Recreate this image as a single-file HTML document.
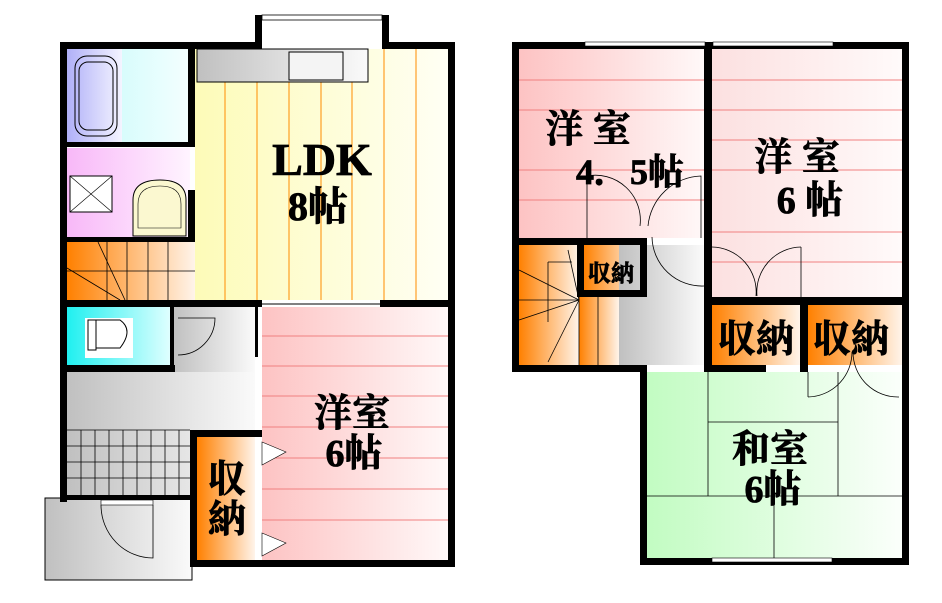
<!DOCTYPE html>
<html><head><meta charset="utf-8"><style>
html,body{margin:0;padding:0;background:#fff;}
svg{display:block;}
text{font-family:"Liberation Serif","Noto Serif CJK SC",serif;font-weight:bold;fill:#000;stroke:#000;stroke-width:0.8;}
</style></head><body>
<svg width="942" height="603" viewBox="0 0 942 603" xmlns="http://www.w3.org/2000/svg">
<defs>
<linearGradient id="pk" x1="0" x2="1"><stop offset="0" stop-color="#fdc3c3"/><stop offset="1" stop-color="#fff8f8"/></linearGradient>
<linearGradient id="pk2" x1="0" x2="1"><stop offset="0" stop-color="#fce0e0"/><stop offset="1" stop-color="#fffafa"/></linearGradient>
<linearGradient id="yl" x1="0" x2="1"><stop offset="0" stop-color="#fdfbb8"/><stop offset="1" stop-color="#fffff4"/></linearGradient>
<linearGradient id="or" x1="0" x2="1"><stop offset="0" stop-color="#ff8000"/><stop offset="1" stop-color="#fff4ea"/></linearGradient>
<linearGradient id="gy" x1="0" x2="1"><stop offset="0" stop-color="#c0c0c0"/><stop offset="1" stop-color="#fafafa"/></linearGradient>
<linearGradient id="gr" x1="0" x2="1"><stop offset="0" stop-color="#c2fcc2"/><stop offset="1" stop-color="#fbfffb"/></linearGradient>
<linearGradient id="cy" x1="0" x2="1"><stop offset="0" stop-color="#20f0f0"/><stop offset="1" stop-color="#e4ffff"/></linearGradient>
<linearGradient id="vi" x1="0" x2="1"><stop offset="0" stop-color="#f8b8f8"/><stop offset="1" stop-color="#fff4ff"/></linearGradient>
<linearGradient id="bl" x1="0" x2="1"><stop offset="0" stop-color="#b0b0f8"/><stop offset="1" stop-color="#f4f4ff"/></linearGradient>
<linearGradient id="lb" x1="0" x2="1"><stop offset="0" stop-color="#d8fcfc"/><stop offset="1" stop-color="#f4ffff"/></linearGradient>
</defs>

<!-- ========== LEFT PLAN ========== -->
<rect x="45" y="498" width="147" height="82" fill="url(#gy)" stroke="#000" stroke-width="1"/>
<rect x="67" y="49" width="55" height="93" fill="url(#bl)"/>
<rect x="122" y="49" width="68" height="93" fill="url(#lb)"/>
<rect x="75" y="56" width="42" height="80" rx="12" fill="none" stroke="#000"/>
<rect x="79" y="62" width="34" height="68" rx="9" fill="none" stroke="#000"/>
<rect x="67" y="148" width="123" height="89" fill="url(#vi)"/>
<rect x="70" y="176" width="42" height="36" fill="#fff" stroke="#000"/>
<line x1="70" y1="176" x2="112" y2="212" stroke="#000" stroke-width=".6"/><line x1="112" y1="176" x2="70" y2="212" stroke="#000" stroke-width=".6"/>
<path d="M133 236 V200 Q133 180 160 180 Q186 180 186 200 V236 Z" fill="#fbf8d0" stroke="#000"/>
<path d="M138 228 V204 Q138 186 160 186 Q181 186 181 204 V228 Z" fill="none" stroke="#000" stroke-width=".6"/>
<rect x="67" y="242" width="128" height="58" fill="url(#or)"/>
<g stroke="#000" stroke-width=".8"><line x1="107" y1="242" x2="107" y2="300"/><line x1="127" y1="242" x2="127" y2="300"/><line x1="148" y1="242" x2="148" y2="300"/><line x1="168" y1="242" x2="168" y2="300"/><line x1="67" y1="271" x2="195" y2="271"/><line x1="98" y1="242" x2="125" y2="300"/><line x1="67" y1="268" x2="120" y2="300"/></g>
<rect x="195" y="49" width="253" height="251" fill="url(#yl)"/>
<g stroke="#ff8c00" stroke-width="1"><line x1="225" y1="80" x2="225" y2="300"/><line x1="257" y1="80" x2="257" y2="300"/><line x1="289" y1="80" x2="289" y2="300"/><line x1="321" y1="80" x2="321" y2="300"/><line x1="352" y1="80" x2="352" y2="300"/><line x1="384" y1="49" x2="384" y2="300"/><line x1="416" y1="49" x2="416" y2="300"/></g>
<rect x="197" y="49" width="171" height="33" fill="url(#gy)" stroke="#000"/>
<rect x="289" y="52" width="54" height="28" fill="#f4f4f4" stroke="#000"/>
<rect x="67" y="307" width="106" height="58" fill="url(#cy)"/>
<rect x="85" y="318" width="48" height="40" fill="#fff"/>
<path d="M96 320 H120 Q134 330 120 348 H96 Z" fill="#fff" stroke="#000"/>
<rect x="88" y="320" width="8" height="30" fill="#fff" stroke="#000"/>
<rect x="67" y="372" width="188" height="126" fill="url(#gy)"/>
<rect x="173" y="307" width="82" height="65" fill="url(#gy)"/>
<g stroke="#000" stroke-width=".8" fill="none"><path d="M178 318 H215 A37 37 0 0 1 178 355"/>
<line x1="67" y1="430" x2="190" y2="430"/>
<line x1="67" y1="446" x2="190" y2="446"/><line x1="67" y1="462" x2="190" y2="462"/><line x1="67" y1="478" x2="190" y2="478"/>
<line x1="81" y1="430" x2="81" y2="495"/><line x1="95" y1="430" x2="95" y2="495"/><line x1="109" y1="430" x2="109" y2="495"/><line x1="123" y1="430" x2="123" y2="495"/><line x1="137" y1="430" x2="137" y2="495"/><line x1="151" y1="430" x2="151" y2="495"/><line x1="165" y1="430" x2="165" y2="495"/><line x1="179" y1="430" x2="179" y2="495"/>
<path d="M101 505 A52 53 0 0 0 153 558 V505"/></g>
<rect x="101" y="500" width="52" height="5" fill="#fff" stroke="#000" stroke-width=".6"/>
<rect x="197" y="437" width="58" height="123" fill="url(#or)"/>
<rect x="262" y="307" width="186" height="253" fill="url(#pk)"/>
<g stroke="#f08080" stroke-width="1"><line x1="262" y1="336" x2="448" y2="336"/><line x1="262" y1="366" x2="448" y2="366"/><line x1="262" y1="396" x2="448" y2="396"/><line x1="262" y1="427" x2="448" y2="427"/><line x1="262" y1="458" x2="448" y2="458"/><line x1="262" y1="489" x2="448" y2="489"/><line x1="262" y1="520" x2="448" y2="520"/></g>
<path d="M262 442 L286 452 L262 465 Z" fill="#fff" stroke="#000" stroke-width=".6"/>
<path d="M262 533 L286 543 L262 556 Z" fill="#fff" stroke="#000" stroke-width=".6"/>
<g fill="#000">
<rect x="60" y="42" width="197" height="7"/><rect x="382" y="42" width="73" height="7"/>
<rect x="255" y="15" width="7" height="34"/><rect x="382" y="15" width="7" height="34"/>
<rect x="60" y="42" width="7" height="460"/>
<rect x="448" y="42" width="7" height="525"/>
<rect x="188" y="49" width="7" height="96"/><rect x="60" y="142" width="135" height="5"/>
<rect x="188" y="190" width="7" height="50"/>
<rect x="60" y="237" width="135" height="5"/>
<rect x="60" y="300" width="202" height="7"/><rect x="380" y="300" width="75" height="7"/>
<rect x="60" y="365" width="115" height="7"/><rect x="170" y="307" width="4" height="58"/>
<rect x="255" y="307" width="3" height="50"/>
<rect x="190" y="430" width="72" height="7"/><rect x="190" y="430" width="7" height="137"/>
<rect x="190" y="560" width="265" height="7"/>
<rect x="60" y="495" width="130" height="5"/>
</g>
<rect x="262" y="15" width="120" height="5" fill="#fff" stroke="#000" stroke-width=".8"/>
<line x1="262" y1="302" x2="380" y2="302" stroke="#fff" stroke-width="3"/>
<line x1="262" y1="304" x2="380" y2="304" stroke="#000" stroke-width="1"/>
<text x="322" y="175" font-size="46" text-anchor="middle">LDK</text>
<text x="318" y="220" font-size="40" text-anchor="middle">8帖</text>
<text x="352" y="426" font-size="38" text-anchor="middle">洋室</text>
<text x="354" y="466" font-size="38" text-anchor="middle">6帖</text>
<text x="227" y="492" font-size="38" text-anchor="middle">収</text>
<text x="227" y="532" font-size="38" text-anchor="middle">納</text>

<!-- ========== RIGHT PLAN ========== -->
<rect x="519" y="49" width="185" height="189" fill="url(#pk)"/>
<rect x="712" y="49" width="190" height="251" fill="url(#pk2)"/>
<g stroke="#f08080" stroke-width="1"><line x1="519" y1="80" x2="704" y2="80"/><line x1="519" y1="110" x2="704" y2="110"/><line x1="519" y1="170" x2="704" y2="170"/><line x1="519" y1="200" x2="704" y2="200"/>
<line x1="712" y1="80" x2="902" y2="80"/><line x1="712" y1="110" x2="902" y2="110"/><line x1="712" y1="140" x2="902" y2="140"/><line x1="712" y1="170" x2="902" y2="170"/><line x1="712" y1="232" x2="902" y2="232"/><line x1="712" y1="262" x2="902" y2="262"/></g>
<rect x="519" y="245" width="60" height="120" fill="url(#or)"/>
<rect x="579" y="297" width="40" height="68" fill="url(#or)"/>
<rect x="584" y="245" width="56" height="45" fill="url(#or)"/>
<rect x="619" y="245" width="85" height="120" fill="url(#gy)"/>
<rect x="712" y="305" width="88" height="60" fill="url(#or)"/>
<rect x="808" y="305" width="94" height="60" fill="url(#or)"/>
<rect x="647" y="372" width="255" height="188" fill="url(#gr)"/>
<g stroke="#000" stroke-width=".8" fill="none">
<line x1="519" y1="300" x2="579" y2="300"/><line x1="579" y1="297" x2="579" y2="365"/><line x1="598" y1="297" x2="598" y2="365"/><line x1="548" y1="262" x2="548" y2="322"/><line x1="548" y1="262" x2="572" y2="262"/>
<line x1="519" y1="270" x2="579" y2="300"/><line x1="519" y1="320" x2="579" y2="300"/><line x1="568" y1="250" x2="579" y2="300"/><line x1="548" y1="362" x2="579" y2="300"/>
<path d="M587 238 V176 A45 45 0 0 1 640 226"/><path d="M701 238 V176 A55 55 0 0 0 648 226"/>
<path d="M652 237 A50 50 0 0 0 704 286"/>
<path d="M712 247 A45 45 0 0 1 756 296"/><path d="M801 247 A45 45 0 0 0 757 296"/><line x1="801" y1="247" x2="801" y2="300"/>
<path d="M808 397 A45 45 0 0 0 852 352"/><path d="M899 397 A45 45 0 0 1 853 352"/><line x1="808" y1="372" x2="808" y2="397"/>
<line x1="708" y1="372" x2="708" y2="496"/><line x1="838" y1="372" x2="838" y2="496"/><line x1="708" y1="422" x2="838" y2="422"/><line x1="647" y1="496" x2="902" y2="496"/><line x1="774" y1="496" x2="774" y2="560"/>
</g>
<g fill="#000">
<rect x="512" y="42" width="397" height="7"/>
<rect x="512" y="42" width="7" height="330"/>
<rect x="902" y="42" width="7" height="523"/>
<rect x="704" y="42" width="8" height="258"/>
<rect x="512" y="238" width="135" height="7"/>
<rect x="577" y="245" width="7" height="52"/>
<rect x="577" y="290" width="70" height="7"/><rect x="640" y="238" width="7" height="59"/>
<rect x="512" y="365" width="135" height="7"/>
<rect x="704" y="297" width="205" height="8"/>
<rect x="704" y="297" width="8" height="75"/><rect x="800" y="297" width="8" height="75"/>
<rect x="704" y="365" width="62" height="7"/>
<rect x="640" y="365" width="7" height="200"/>
<rect x="640" y="558" width="269" height="7"/>
</g>
<rect x="585" y="42" width="120" height="4" fill="#fff" stroke="#000" stroke-width=".6"/>
<rect x="713" y="42" width="120" height="4" fill="#fff" stroke="#000" stroke-width=".6"/>
<rect x="712" y="558" width="120" height="4" fill="#fff" stroke="#000" stroke-width=".6"/>
<text x="588" y="142" font-size="38" text-anchor="middle">洋 室</text>
<text x="630" y="184" font-size="36" text-anchor="middle">4．5帖</text>
<text x="797" y="170" font-size="38" text-anchor="middle">洋 室</text>
<text x="810" y="213" font-size="38" text-anchor="middle">6 帖</text>
<text x="611" y="281" font-size="23" text-anchor="middle">収納</text>
<text x="756" y="352" font-size="38" text-anchor="middle">収納</text>
<text x="851" y="352" font-size="38" text-anchor="middle">収納</text>
<text x="770" y="462" font-size="38" text-anchor="middle">和室</text>
<text x="773" y="502" font-size="38" text-anchor="middle">6帖</text>
</svg>
</body></html>
